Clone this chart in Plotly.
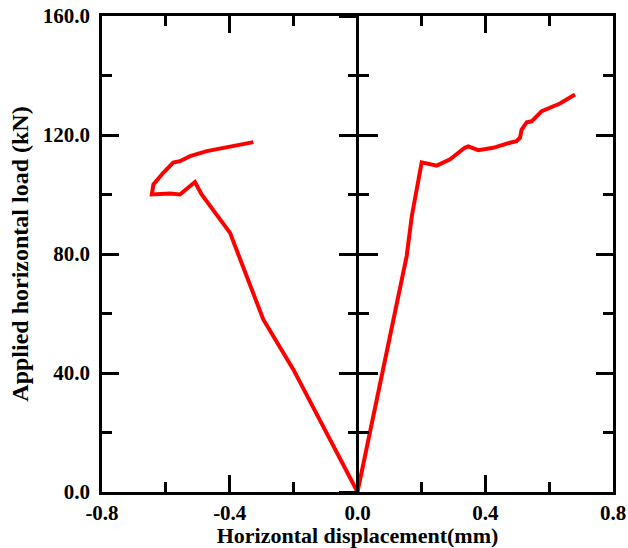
import plotly.graph_objects as go

# Load–displacement response, loading towards negative displacement
left_disp = [0.0, -0.201, -0.295, -0.358, -0.399, -0.488, -0.509, -0.556, -0.587,
             -0.644, -0.639, -0.608, -0.577, -0.556, -0.524, -0.472, -0.420, -0.368, -0.326]
left_load = [0.0, 41.2, 58.0, 75.9, 87.1, 100.0, 104.2, 100.0, 100.3,
             100.0, 103.4, 107.3, 110.7, 111.2, 112.9, 114.6, 115.7, 116.8, 117.6]

# Load–displacement response, loading towards positive displacement
right_disp = [0.0, 0.154, 0.170, 0.201, 0.248, 0.290, 0.336, 0.347, 0.378, 0.425,
              0.477, 0.498, 0.509, 0.514, 0.530, 0.545, 0.577, 0.603, 0.634, 0.681]
right_load = [0.0, 79.3, 92.7, 110.8, 109.7, 111.8, 115.7, 116.2, 114.9, 115.7,
              117.4, 117.9, 119.1, 121.8, 124.3, 124.6, 128.0, 129.1, 130.6, 133.6]

x_ticks = [-0.8, -0.4, 0.0, 0.4, 0.8]
x_labels = ["-0.8", "-0.4", "0.0", "0.4", "0.8"]
y_ticks = [0, 40, 80, 120, 160]
y_labels = ["0.0", "40.0", "80.0", "120.0", "160.0"]

x_range = [-0.8, 0.8]
y_range = [0, 160]

FONT = "Liberation Serif"
RED = "#ff0000"

fig = go.Figure()
for xs, ys in ((left_disp, left_load), (right_disp, right_load)):
    fig.add_trace(go.Scatter(x=xs, y=ys, mode="lines",
                             line=dict(color=RED, width=4),
                             showlegend=False, hoverinfo="skip"))

# invisible carriers so the centre axes are drawn
for ax in ("y2", "y3"):
    fig.add_trace(go.Scatter(x=[None], y=[None], yaxis=ax, showlegend=False,
                             hoverinfo="skip"))

tick_font = dict(family=FONT, size=21, color="black", weight="bold")
frame = dict(showgrid=False, showline=True, linecolor="black", linewidth=2.5,
             mirror="ticks", ticks="inside", ticklen=17, tickwidth=2.5,
             tickcolor="black", tickfont=tick_font, automargin=False)

fig.update_layout(
    width=628, height=548,
    margin=dict(l=102, r=15, t=16, b=56),
    paper_bgcolor="white", plot_bgcolor="white",
    xaxis=dict(
        range=x_range, tickmode="array", tickvals=x_ticks, ticktext=x_labels,
        zeroline=True, zerolinecolor="black", zerolinewidth=2.5,
        minor=dict(dtick=0.2, tick0=-0.8, ticks="inside", ticklen=10,
                   tickwidth=2.5, tickcolor="black", showgrid=False),
        ticklabelstandoff=0,
        title=dict(text="Horizontal displacement(mm)", standoff=4,
                   font=dict(family=FONT, size=22, color="black", weight="bold")),
        **frame,
    ),
    yaxis=dict(
        range=y_range, tickmode="array", tickvals=y_ticks, ticktext=y_labels,
        zeroline=False,
        minor=dict(dtick=20, tick0=0, ticks="inside", ticklen=10,
                   tickwidth=2.5, tickcolor="black", showgrid=False),
        ticklabelstandoff=5,
        title=dict(text="Applied horizontal load (kN)", standoff=8,
                   font=dict(family=FONT, size=24, color="black", weight="bold")),
        **frame,
    ),
    # tick marks crossing the zero-displacement line
    yaxis2=dict(
        range=y_range, dtick=40, tick0=0, overlaying="y", anchor="free",
        position=0.5, side="left", showgrid=False, zeroline=False,
        showline=False, showticklabels=False,
        ticks="outside", ticklen=19, tickwidth=2.5, tickcolor="black",
        minor=dict(dtick=20, ticks="outside", ticklen=10, tickwidth=2.5,
                   tickcolor="black", showgrid=False),
    ),
    yaxis3=dict(
        range=y_range, dtick=40, tick0=0, overlaying="y", anchor="free",
        position=0.5, side="left", showgrid=False, zeroline=False,
        showline=False, showticklabels=False,
        ticks="inside", ticklen=19, tickwidth=2.5, tickcolor="black",
        minor=dict(dtick=20, ticks="inside", ticklen=10, tickwidth=2.5,
                   tickcolor="black", showgrid=False),
    ),
)

fig.write_html("out.html")
